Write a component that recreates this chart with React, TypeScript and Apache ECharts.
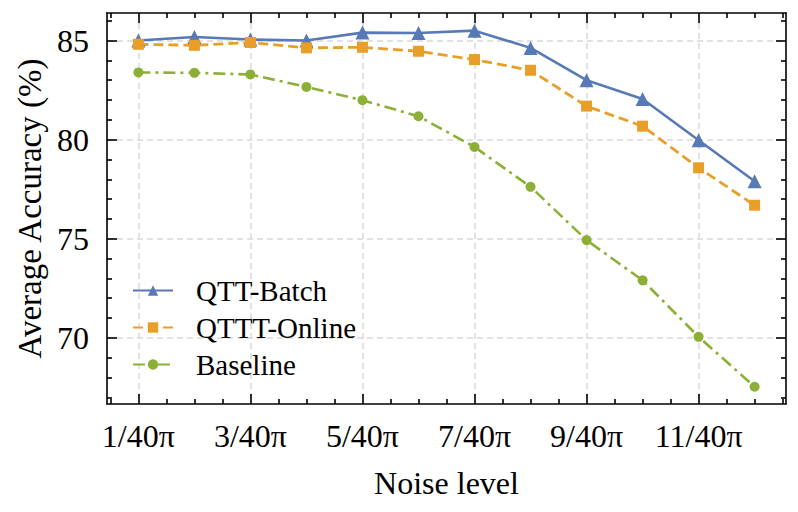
import React, { useEffect, useRef } from 'react';
import * as echarts from 'echarts';

const categories = ['1/40π', '2/40π', '3/40π', '4/40π', '5/40π', '6/40π', '7/40π', '8/40π', '9/40π', '10/40π', '11/40π', '12/40π'];
const labelledCategories = ['1/40π', '3/40π', '5/40π', '7/40π', '9/40π', '11/40π'];
const yTickValues = [70, 75, 80, 85];

const qttBatch = [85.0, 85.18, 85.05, 85.0, 85.4, 85.38, 85.5, 84.63, 83.0, 82.05, 79.97, 77.9];
const qtttOnline = [84.81, 84.76, 84.9, 84.63, 84.66, 84.46, 84.04, 83.5, 81.69, 80.68, 78.58, 76.69];
const baseline = [83.39, 83.37, 83.29, 82.66, 81.99, 81.18, 79.63, 77.62, 74.93, 72.9, 70.05, 67.53];

const FONT = '"Liberation Serif", "Times New Roman", serif';
const BLUE = '#5779b5';
const ORANGE = '#e89f29';
const GREEN = '#8cb036';

const X_MIN = 0.44;
const X_MAX = 12.56;
const Y_MIN = 66.66;
const Y_MAX = 86.39;

export default function App() {
  const ref = useRef<HTMLDivElement>(null);

  useEffect(() => {
    document.body.style.margin = '0';
    if (!ref.current) return;
    const chart = echarts.init(ref.current, undefined, { renderer: 'svg' });

    const xs = categories.map((_, i) => i + 1);
    const xMajor = labelledCategories.map((l) => categories.indexOf(l) + 1);
    const xMinor: number[] = [];
    for (let v = 0.5; v <= categories.length + 0.5; v += 0.5) {
      if (!xMajor.includes(v) && v >= X_MIN && v <= X_MAX) xMinor.push(v);
    }
    const yMinor: number[] = [];
    for (let v = Math.ceil(Y_MIN); v <= Math.floor(Y_MAX); v++) {
      if (!yTickValues.includes(v)) yMinor.push(v);
    }

    const lineStyle = { color: '#000', width: 1.6 };
    const grid = { color: '#d9d9d9', width: 1.5, type: [6, 4] as number[] };

    const mkX = (position: 'top' | 'bottom', major: boolean, first: boolean) => ({
      type: 'value' as const,
      position,
      min: X_MIN,
      max: X_MAX,
      axisLine: { show: major, onZero: false, lineStyle },
      axisTick: { show: true, inside: true, length: major ? 10 : 5, customValues: major ? xMajor : xMinor, lineStyle },
      axisLabel: first
        ? {
            show: true,
            customValues: xMajor,
            formatter: (v: number) => categories[Math.round(v) - 1],
            margin: 16,
            fontFamily: FONT,
            fontSize: 32,
            color: '#000',
          }
        : { show: false },
      splitLine: first ? { show: true, lineStyle: grid } : { show: false },
      name: first ? 'Noise level' : '',
      nameLocation: 'middle' as const,
      nameGap: 63,
      nameTextStyle: { fontFamily: FONT, fontSize: 32, color: '#000' },
    });

    const mkY = (position: 'left' | 'right', major: boolean, first: boolean) => ({
      type: 'value' as const,
      position,
      min: Y_MIN,
      max: Y_MAX,
      axisLine: { show: major, onZero: false, lineStyle },
      axisTick: { show: true, inside: true, length: major ? 10 : 5, customValues: major ? yTickValues : yMinor, lineStyle },
      axisLabel: first
        ? {
            show: true,
            customValues: yTickValues,
            margin: 18,
            fontFamily: FONT,
            fontSize: 32,
            color: '#000',
          }
        : { show: false },
      splitLine: first ? { show: true, lineStyle: grid } : { show: false },
      name: first ? 'Average Accuracy (%)' : '',
      nameLocation: 'middle' as const,
      nameGap: 58,
      nameTextStyle: { fontFamily: FONT, fontSize: 33, color: '#000' },
    });

    const option = {
      animation: false,
      backgroundColor: '#fff',
      grid: { left: 107, top: 13, right: 12, bottom: 108, containLabel: false },
      xAxis: [mkX('bottom', true, true), mkX('bottom', false, false), mkX('top', true, false), mkX('top', false, false)],
      yAxis: [mkY('left', true, true), mkY('left', false, false), mkY('right', true, false), mkY('right', false, false)],
      legend: {
        orient: 'vertical',
        left: 132,
        top: 276,
        padding: 0,
        itemWidth: 40,
        itemHeight: 13,
        itemGap: 8,
        textStyle: { fontFamily: FONT, fontSize: 29, color: '#000', padding: [0, 0, 0, 18] },
        data: ['QTT-Batch', 'QTTT-Online', 'Baseline'],
      },
      series: [
        {
          name: 'QTT-Batch',
          type: 'line',
          data: xs.map((x, i) => [x, qttBatch[i]]),
          symbol: 'triangle',
          symbolSize: 14,
          lineStyle: { color: BLUE, width: 2.6 },
          itemStyle: { color: BLUE },
        },
        {
          name: 'QTTT-Online',
          type: 'line',
          data: xs.map((x, i) => [x, qtttOnline[i]]),
          symbol: 'rect',
          symbolSize: 11,
          lineStyle: { color: ORANGE, width: 2.8, type: [10, 5] },
          itemStyle: { color: ORANGE },
        },
        {
          name: 'Baseline',
          type: 'line',
          data: xs.map((x, i) => [x, baseline[i]]),
          symbol: 'circle',
          symbolSize: 10,
          lineStyle: { color: GREEN, width: 2.6, type: [12, 5, 3, 5] },
          itemStyle: { color: GREEN },
        },
      ],
    };

    chart.setOption(option as any);
    return () => chart.dispose();
  }, []);

  return <div ref={ref} style={{ width: 798, height: 512 }} />;
}
